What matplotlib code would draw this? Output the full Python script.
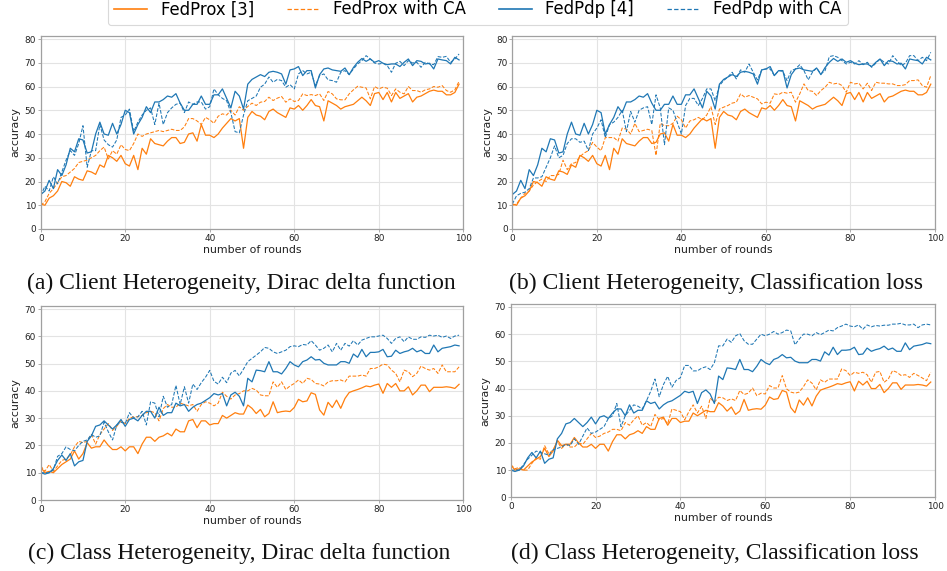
import numpy as np
import matplotlib
matplotlib.use("Agg")
import matplotlib.pyplot as plt
from matplotlib.lines import Line2D

rounds = np.arange(100)

# ---- Client heterogeneity: baselines (shared by panels a and b) ----
prox_client = [10.5, 10, 13, 14, 16, 20, 19.5, 18, 22, 21,
               20.5, 24.5, 24, 23, 27, 26, 31, 30, 28.5, 31,
               27.5, 26.5, 31, 25, 34, 31.5, 38, 36, 35.5, 35,
               37, 38.5, 38.5, 36, 36.5, 40, 40.5, 37, 44, 39.5,
               39.5, 38.5, 40, 42.5, 44.5, 46.5, 45.5, 46.5, 34, 47,
               49.5, 48, 47.5, 46, 49.5, 50.5, 49, 48, 47, 51,
               50.5, 52, 50, 52, 54.5, 52, 51.5, 45.5, 54, 53,
               52, 50.5, 51.5, 52, 52.5, 54, 55.5, 54, 52, 57,
               57.5, 54.5, 57.5, 53.5, 57.5, 55, 56, 57, 53.5, 55.5,
               56, 57, 58, 58.5, 58, 58, 56.5, 56.5, 57.5, 61]
pdp_client = [14.5, 16, 20.5, 17, 25, 22.5, 27, 34, 32.5, 38,
              37.5, 32, 32.5, 40, 45, 40, 39.5, 44.5, 40, 44,
              50, 49, 40, 44, 47, 51.5, 49, 53.5, 53.5, 54.5,
              56, 55.5, 57, 53, 50, 50, 52.5, 52.5, 56, 52.5,
              52.5, 56.5, 56.5, 59, 55, 51, 58, 56, 50.5, 61,
              63, 64, 65, 64.2, 66, 66.4, 66, 65.3, 61, 67,
              67.4, 68.4, 64.6, 66.7, 66.7, 59.4, 65, 67.4, 67.8, 67,
              66.7, 66.4, 67.8, 65, 68, 70.2, 71.8, 70.6, 71.6, 70.2,
              70.9, 69.8, 69.2, 69.5, 69.5, 68.4, 70.2, 71.6, 68.8, 70.9,
              70.6, 69.5, 69.8, 67.4, 71.6, 71.2, 70.9, 69.5, 72.3, 71.2]

# ---- (a) Dirac delta function ----
prox_ca_a = [10, 11.5, 15, 17, 19.5, 22, 22.5, 24, 25.5, 28,
             28.5, 29, 30, 31, 33, 34.5, 29.5, 33, 31.5, 35.5,
             33.5, 33, 36, 40, 39, 40, 40.5, 41, 41.5, 41,
             41.5, 42, 41.5, 41.5, 43, 46.5, 46.5, 45.5, 44, 47,
             46, 44.5, 47.5, 48.5, 48, 50, 48, 51.5, 50, 51.6,
             53, 52, 53.4, 53.7, 55.5, 54.1, 55.1, 55.8, 53.4, 54.8,
             53.7, 54.1, 56.9, 56.2, 56.6, 56.2, 56.9, 54.1, 57.9, 56.9,
             54.8, 54.4, 54.4, 56.9, 58.6, 60.1, 59.7, 59.4, 54.8, 60,
             59, 59.7, 59.3, 56.2, 59, 57.6, 56.9, 60, 58.3, 58.3,
             57.6, 58.6, 59, 60, 59.7, 60.4, 58.3, 57.6, 58.6, 62.2]
pdp_ca_a = [14, 18, 16, 22, 19, 24, 29, 33, 31, 36,
            43.5, 26, 33, 33, 44, 37.5, 35.5, 34.5, 37.5, 47,
            48, 50.5, 41, 45, 48, 50, 51, 44, 53, 44,
            49, 51, 52.5, 53, 49, 53.5, 52.5, 53.5, 53.5, 50.5,
            51.5, 59, 56.5, 55, 54, 49, 41, 40.5, 48, 54,
            55, 56, 59.7, 61, 64, 61.8, 63, 62.5, 59.7, 60.8,
            59, 65.3, 66.7, 65.3, 66, 60.4, 64.6, 65.3, 62.8, 62.5,
            61.8, 66, 66.7, 65, 67.4, 69.5, 70.9, 73, 71.6, 69.9,
            69.5, 69.8, 68.8, 66, 69.8, 70.6, 68.8, 70.9, 69.9, 70.2,
            68.1, 70.2, 69.5, 69.2, 72.6, 72.3, 72.7, 70.2, 71.6, 73.7]

# ---- (b) Classification loss ----
prox_ca_b = [10, 10.5, 13, 15, 16, 18.5, 20, 21, 20, 22.5,
             22.5, 23, 29, 25, 27.5, 28, 30.5, 32, 33, 36.5,
             34.5, 33, 38.5, 38.5, 38.5, 37, 42.5, 42, 40, 44.5,
             41, 41.5, 42, 41.5, 31, 44.5, 43.5, 43.5, 44.5, 47.5,
             46, 42.5, 45.5, 46, 47, 46, 48, 51.5, 44, 50.5,
             51.3, 52, 53, 53.4, 56.9, 55.5, 56.2, 55.5, 54.8, 52.7,
             53.4, 53, 56.9, 56.6, 57.6, 57.2, 57.6, 53.4, 56.9, 61.1,
             58.3, 58, 56.2, 58.3, 59.7, 61.8, 61.1, 61.4, 60.4, 57.6,
             61.8, 61.1, 61.4, 59, 61.4, 58.3, 61.8, 61.4, 61.4, 61.1,
             61.1, 60.4, 60.4, 60.8, 62.5, 62.5, 62.8, 60.4, 59.7, 64.6]
pdp_ca_b = [10.5, 14, 15, 15.5, 17, 21.5, 21.5, 22, 26, 30,
            35, 30, 31, 36, 38, 38, 36.5, 37, 33, 40,
            42.5, 46, 38.5, 44, 45, 47, 50, 41, 49.5, 45,
            50, 51, 51.5, 44, 56.5, 51, 35.5, 51, 50, 45,
            40, 52, 55, 55, 52, 55, 59, 59, 54, 60.4,
            62.5, 64, 66, 63.2, 67, 66, 69.5, 66, 62.8, 67,
            67.4, 67.4, 64.6, 66.7, 66.4, 62.5, 66.7, 67.4, 69.2, 66.7,
            62.8, 66, 67.8, 65.3, 66.7, 72.6, 73, 72.3, 70.9, 69.5,
            70.2, 69.5, 70.9, 69.2, 70.2, 68.1, 69.8, 71.6, 70.2, 69.5,
            73, 70.9, 68.8, 69.8, 73, 73, 70.9, 72.3, 70.9, 74.4]

# ---- Class heterogeneity: baselines (shared by panels c and d) ----
prox_class = [12, 10, 10.5, 10, 11.5, 13, 14, 15, 18, 15,
              17, 21, 19, 19.5, 19.5, 22, 20, 18.5, 18.5, 19.5,
              18, 19.5, 19.5, 17, 20.5, 23, 23, 21.5, 23, 23.5,
              24.5, 23.5, 26, 25, 25, 29, 29.5, 26.5, 29, 29,
              27.5, 28, 28, 31, 30, 31, 32, 31.5, 31.5, 34.8,
              33.6, 31.7, 33.2, 30.5, 31.7, 36, 32, 32.4, 32.6, 32.4,
              33.9, 36.9, 36, 36.3, 39.3, 38.7, 33, 31.1, 35.8, 33.9,
              36.6, 33.6, 37.2, 39.4, 40, 40.5, 41.1, 41.8, 41.5, 42.1,
              42.5, 39.1, 42.7, 41.3, 42.7, 40, 40, 41.5, 38.5, 40,
              42.1, 42.1, 39.7, 41.3, 41.3, 41.3, 41.5, 41.3, 40.9, 42.4]
pdp_class = [10, 9.5, 10, 11.5, 14.5, 16.5, 14.5, 17, 12.5, 14,
             14.5, 21.5, 23.5, 27, 27.5, 29, 27.5, 26, 27.5, 29.5,
             27, 29.5, 30, 29, 31, 32.5, 32.5, 30, 34, 31,
             32, 32, 35.5, 34.5, 35, 32.5, 34, 35, 35.5, 36.5,
             37.5, 39, 38.5, 39, 34.5, 38.5, 39.5, 38, 34.5, 44.6,
             43.3, 47.6, 47.4, 47, 50.7, 47, 47, 46.2, 48.2, 50.7,
             49.5, 48.8, 50.7, 51.3, 52.5, 51.3, 51.5, 50.1, 49.5, 49.5,
             49.5, 50.7, 50.7, 50.1, 53.5, 52.3, 55.2, 52.5, 54.1, 54.1,
             54.3, 55.2, 52.5, 52.7, 54.9, 53.7, 54.3, 54.7, 55.6, 54.3,
             54.9, 53.7, 53.7, 56.8, 54.3, 55.6, 55.9, 56.2, 56.8, 56.5]

# ---- (c) Dirac delta function ----
prox_ca_c = [12.5, 10.5, 13, 10.5, 12.5, 14.5, 15, 16.5, 19.5, 21.5,
             21, 21.5, 24, 20.5, 24, 26, 28, 25.5, 27, 29,
             28, 30, 30.5, 30.5, 31, 32, 32.5, 32, 29, 33.5,
             35, 34, 34, 35.5, 35, 34.5, 35, 32.5, 35, 36,
             35.5, 34.5, 35.5, 39.5, 38, 37, 38.5, 39, 40, 40,
             40.9, 40.3, 38.5, 38.2, 38.2, 43.3, 41.3, 43.3, 40.5, 41.8,
             42.7, 44, 42.7, 44.6, 44.2, 42.7, 42.5, 41.8, 43.3, 43.7,
             43.7, 44, 43.3, 45.4, 45.4, 45.4, 45.8, 45.4, 48.2, 48.2,
             48.8, 49.8, 49.5, 47.6, 46.4, 43.3, 47.6, 47, 45.2, 46.4,
             49.1, 48.2, 47.6, 48.2, 46.4, 49.5, 47, 47, 47, 48.8]
pdp_ca_c = [10, 10, 10, 11, 16, 17, 19.5, 18.5, 18, 20,
            21.5, 22, 24, 23, 23.5, 28.5, 25, 22, 27.5, 28.5,
            28, 32, 30, 30.5, 32.5, 27.5, 36, 35.5, 30.5, 38,
            34, 35, 42, 35, 41.5, 35.5, 42.5, 40.5, 43, 45,
            47.5, 43.5, 42.5, 45, 43, 46.5, 47.5, 45.5, 48, 50.7,
            51.9, 53.1, 54.3, 55.9, 55.6, 54.3, 53.7, 54.3, 54.9, 56.2,
            56.5, 56.2, 57, 56.8, 58.4, 56.8, 54.9, 55.6, 56.8, 54.3,
            57.4, 54.9, 57.4, 56.4, 58.4, 56.8, 58.6, 59.2, 59.8, 59.8,
            60.1, 60.4, 59.2, 57.4, 59.2, 59.8, 58, 59.8, 58.9, 58.9,
            59.8, 59.6, 60.4, 60.1, 60.4, 59.6, 60.1, 59.2, 60.1, 60.4]

# ---- (d) Classification loss ----
prox_ca_d = [12, 10.5, 11, 10, 10, 12.5, 14.5, 14, 19, 16,
             17.5, 20.5, 18, 19.5, 18.5, 18.5, 20, 19.5, 21.5, 23.5,
             22, 22.5, 23.5, 24, 25, 25, 24.5, 27.5, 26.5, 28.5,
             30, 26.5, 27.5, 26, 30.5, 28.5, 29, 27, 32.5, 32,
             31.5, 28.5, 31.5, 34, 31, 33.5, 29, 36.5, 35, 36.8,
             36.6, 35.6, 36.2, 35.6, 39.3, 37.8, 38.3, 40.2, 37.4, 38.3,
             38, 41.1, 40.2, 40.2, 44.8, 39.9, 38.7, 38.3, 38.7, 40.7,
             43.2, 42, 39.5, 43.2, 42.3, 43.5, 43.5, 43.5, 47.2, 46.6,
             44.8, 46, 45.6, 46, 45.1, 42.3, 46, 46.3, 42.3, 43.5,
             46.6, 46, 44.8, 45.1, 44.1, 45.6, 44.8, 43.9, 42.9, 46]
pdp_ca_d = [10, 10, 10, 12, 14, 15.5, 17, 16.5, 16, 15.5,
            17.5, 18, 18.5, 19.5, 19, 21.5, 19.5, 22.5, 25.5, 23.5,
            24, 25, 26, 29, 30, 34.5, 26, 30, 32, 34,
            33.5, 32.5, 35.5, 39, 43.5, 37, 41.5, 44.5, 40.5, 43,
            44, 48.5, 48.5, 46.5, 46.5, 47.5, 48, 47, 49.5, 55.7,
            55.7, 58.2, 57, 59.4, 60.2, 57.6, 56.3, 56.3, 58.2, 60,
            59.4, 60, 61, 60, 60.6, 61.5, 61.2, 56.1, 58.2, 60,
            60, 59.4, 60.6, 59.8, 60.6, 61.5, 61.2, 62.4, 63, 63.7,
            63, 62.7, 63.4, 61.8, 63.4, 62.7, 63.2, 63, 63.3, 63.3,
            63.7, 63.7, 64, 63.4, 63.4, 63.7, 62.4, 63.4, 63.7, 63.4]

labels = ["FedProx [3]", "FedProx with CA", "FedPdp [4]", "FedPdp with CA"]
captions = ["(a) Client Heterogeneity, Dirac delta function",
            "(b) Client Heterogeneity, Classification loss",
            "(c) Class Heterogeneity, Dirac delta function",
            "(d) Class Heterogeneity, Classification loss"]
yticks_top = [80, 80, 70, 70]

panels = [
    (prox_client, prox_ca_a, pdp_client, pdp_ca_a),
    (prox_client, prox_ca_b, pdp_client, pdp_ca_b),
    (prox_class, prox_ca_c, pdp_class, pdp_ca_c),
    (prox_class, prox_ca_d, pdp_class, pdp_ca_d),
]

W, H = 947, 571
fig = plt.figure(figsize=(W / 100, H / 100), dpi=100)

# axes boxes in pixel coords: left, right, top, bottom
boxes = [(40.7, 463.3, 35.7, 229.0),
         (512.3, 935.0, 35.7, 229.0),
         (40.7, 463.3, 306.0, 500.0),
         (510.7, 935.0, 304.0, 497.3)]
ylims = [81.4, 81.4, 71.1, 71.1]
cap_pos = [(241.5, 289), (716, 289), (239, 559), (715, 559)]

ORANGE = "#ff7f0e"
BLUE = "#1f77b4"
spine_c = "#a0a0a0"

for i, (l, r, t, b) in enumerate(boxes):
    ax = fig.add_axes([l / W, 1 - b / H, (r - l) / W, (b - t) / H])
    prox, prox_ca, pdp, pdp_ca = panels[i]
    ax.plot(rounds, prox, color=ORANGE, lw=0.9, ls="-")
    ax.plot(rounds, prox_ca, color=ORANGE, lw=0.75, ls="--", dashes=(3.5, 1.6))
    ax.plot(rounds, pdp, color=BLUE, lw=0.9, ls="-")
    ax.plot(rounds, pdp_ca, color=BLUE, lw=0.75, ls="--", dashes=(3.5, 1.6))
    ax.set_xlim(0, 100)
    ax.set_ylim(0, ylims[i])
    ax.set_xticks(range(0, 101, 20))
    ax.set_yticks(range(0, yticks_top[i] + 1, 10))
    ax.grid(True, color="#e3e3e3", lw=0.8)
    ax.set_axisbelow(True)
    for sp in ax.spines.values():
        sp.set_color(spine_c)
        sp.set_linewidth(0.9)
    ax.tick_params(axis="both", labelsize=6.4, length=2.2, width=0.6,
                   color=spine_c, pad=1.2, labelcolor="#222222")
    ax.set_xlabel("number of rounds", fontsize=7.9, labelpad=1.5, color="#222222")
    ax.set_ylabel("accuracy", fontsize=7.9, labelpad=3, color="#222222")
    cx, cy = cap_pos[i]
    fig.text(cx / W, 1 - cy / H, captions[i], ha="center", va="baseline",
             fontsize=17, family="Liberation Serif", color="#111111")

handles = [Line2D([], [], color=ORANGE, lw=1.2, ls="-"),
           Line2D([], [], color=ORANGE, lw=0.9, ls="--", dashes=(3.5, 1.8)),
           Line2D([], [], color=BLUE, lw=1.2, ls="-"),
           Line2D([], [], color=BLUE, lw=0.9, ls="--", dashes=(3.5, 1.8))]
leg = fig.legend(handles, labels, loc="lower center", ncol=4,
                 bbox_to_anchor=(478 / W, 1 - 25 / H), fontsize=11.9,
                 frameon=True, fancybox=True, edgecolor="#d0d0d0",
                 handlelength=2.0, columnspacing=2.0, borderaxespad=0)
leg.get_frame().set_linewidth(0.8)

fig.savefig("out.png", dpi=100)
